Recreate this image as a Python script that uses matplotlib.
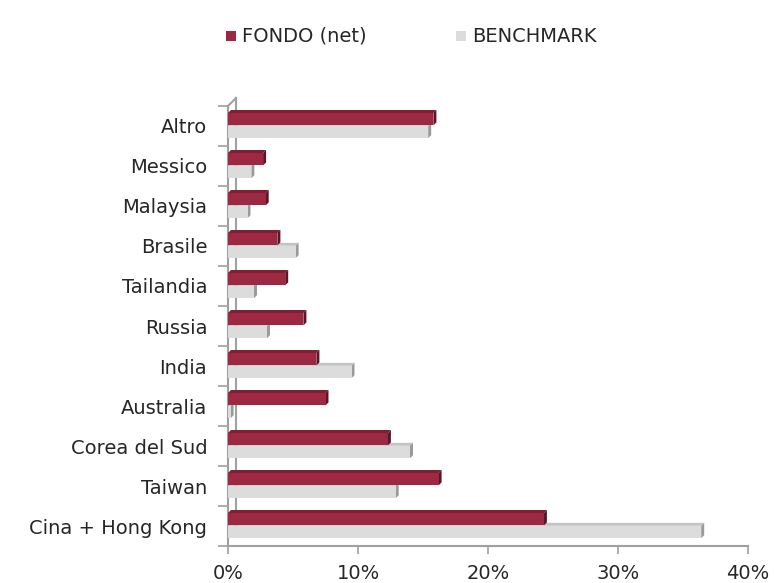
import matplotlib.pyplot as plt
from matplotlib.patches import Polygon, Rectangle
from matplotlib.ticker import MultipleLocator, FuncFormatter
import matplotlib.transforms as mtrans

# data (bottom to top)
paesi = ['Cina + Hong Kong', 'Taiwan', 'Corea del Sud', 'Australia', 'India',
         'Russia', 'Tailandia', 'Brasile', 'Malaysia', 'Messico', 'Altro']
fondo = [24.3, 16.2, 12.3, 7.5, 6.8, 5.8, 4.4, 3.8, 2.9, 2.7, 15.8]
benchmark = [36.4, 12.9, 14.0, 0.2, 9.5, 3.0, 2.0, 5.2, 1.5, 1.8, 15.4]

red = '#9c2842'
red_top = '#7e1f35'
red_side = '#5c1426'
grey = '#dcdcdc'
grey_top = '#c4c4c4'
grey_side = '#9a9a9a'
axcol = '#a0a0a0'
txt = '#262626'
fs = 14

plt.rcParams['font.family'] = ['DejaVu Sans']

fig = plt.figure(figsize=(7.74, 5.83), dpi=100)
ax = fig.add_axes([228 / 774, 1 - 546 / 583, 520 / 774, 440 / 583])

h = 0.31
dx = 0.23   # depth in % units (~3px)
dy = 0.075  # depth in category units (~3px)


def bar3d(y, v, h, front, top, side):
    ax.add_patch(Polygon([(0, y + h / 2), (dx, y + h / 2 + dy), (v + dx, y + h / 2 + dy), (v, y + h / 2)],
                         closed=True, facecolor=top, edgecolor='none', zorder=3))
    ax.add_patch(Polygon([(v, y - h / 2), (v + dx, y - h / 2 + dy), (v + dx, y + h / 2 + dy), (v, y + h / 2)],
                         closed=True, facecolor=side, edgecolor='none', zorder=3))
    ax.barh(y, v, height=h, color=front, zorder=4)


ypos = list(range(len(paesi)))
for i in ypos:
    bar3d(i - 0.15, benchmark[i], h, grey, grey_top, grey_side)
    bar3d(i + 0.17, fondo[i], h, red, red_top, red_side)

ax.set_xlim(0, 40)
ax.set_ylim(-0.5, 10.5)
ax.xaxis.set_major_locator(MultipleLocator(10))
ax.xaxis.set_major_formatter(FuncFormatter(lambda v, p: f'{v:.0f}%'))
ax.set_yticks(ypos)
ax.set_yticklabels(paesi)
ax.set_yticks([k - 0.5 for k in range(len(paesi) + 1)], minor=True)
ax.tick_params(axis='y', which='major', length=0, pad=15, labelsize=fs, labelcolor=txt)
ax.tick_params(axis='y', which='minor', length=7, color=axcol, width=1.2, direction='out')
ax.tick_params(axis='x', length=6, color=axcol, width=1.2, pad=7, labelsize=fs, labelcolor=txt)

for s in ['top', 'right']:
    ax.spines[s].set_visible(False)
for s in ['left', 'bottom']:
    ax.spines[s].set_color(axcol)
    ax.spines[s].set_linewidth(1.5)

# back wall line of the 3D frame
off = mtrans.offset_copy(ax.transAxes, fig=fig, x=8, y=8, units='dots')
ax.plot([0, 0], [0.03, 1], transform=off, color=axcol, lw=1.5, clip_on=False, zorder=2)
ax.plot([0, 8 / 520], [1, 1 + 8 / 440], transform=ax.transAxes, color=axcol, lw=1.5, clip_on=False)

# legend
fig.patches.append(Rectangle((226 / 774, 1 - 41 / 583), 10 / 774, 10 / 583,
                             transform=fig.transFigure, facecolor=red, edgecolor='none'))
fig.text(242 / 774, 1 - 36 / 583, 'FONDO (net)', fontsize=fs, color=txt, va='center')
fig.patches.append(Rectangle((456 / 774, 1 - 41 / 583), 10 / 774, 10 / 583,
                             transform=fig.transFigure, facecolor=grey, edgecolor='none'))
fig.text(472 / 774, 1 - 36 / 583, 'BENCHMARK', fontsize=fs, color=txt, va='center')

plt.savefig('out.png', dpi=100)
